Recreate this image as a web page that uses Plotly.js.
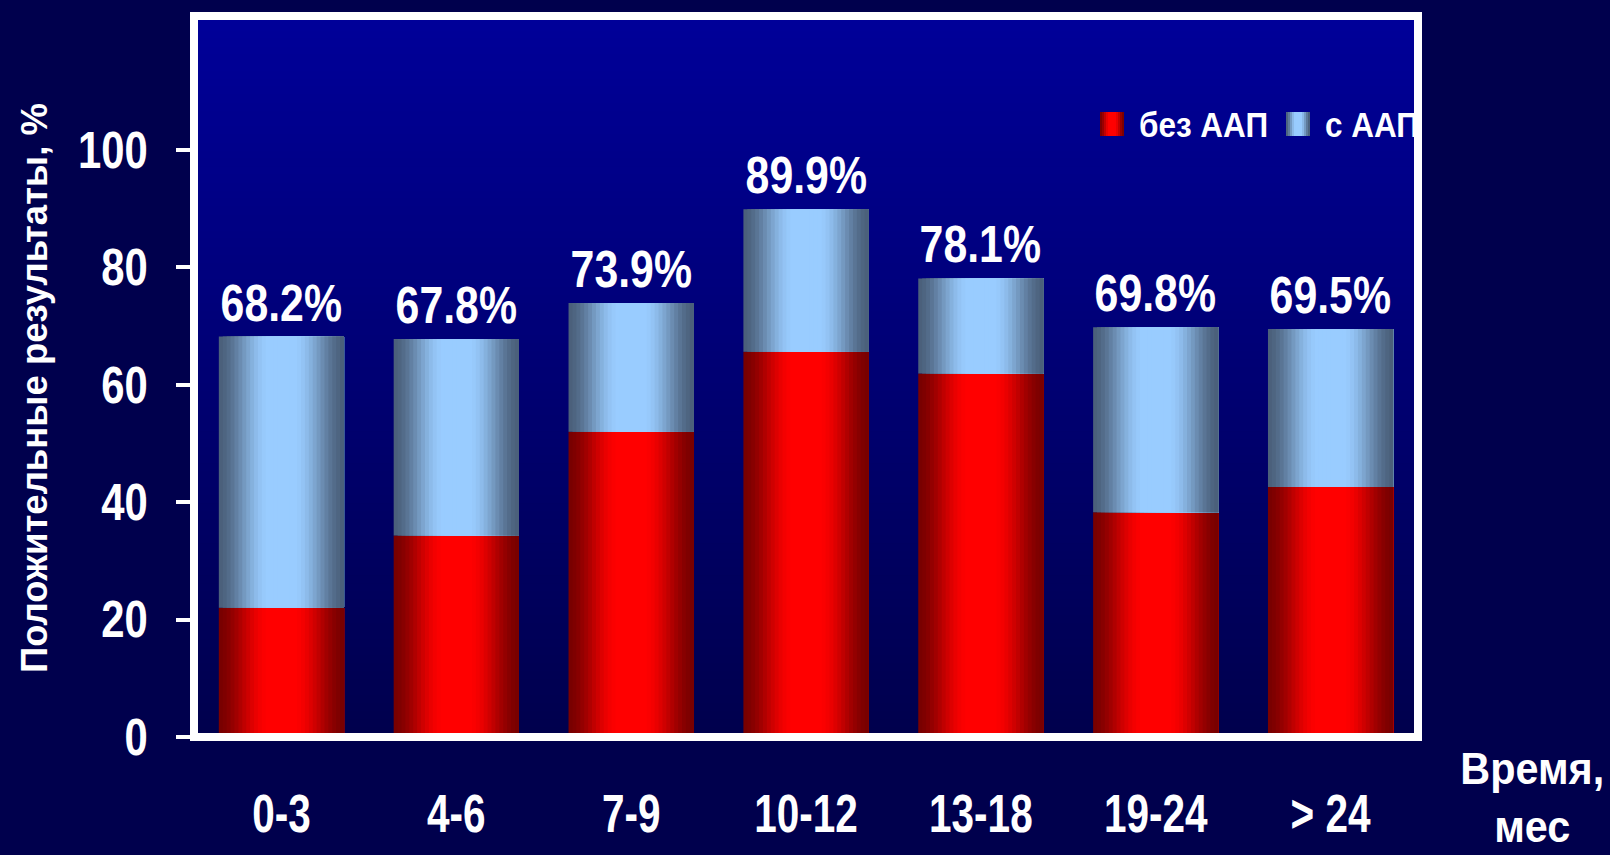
<!DOCTYPE html>
<html>
<head>
<meta charset="utf-8">
<script src="https://cdn.plot.ly/plotly-3.0.1.min.js"></script>
<style>
  html, body { margin: 0; padding: 0; background: #00004d; }
  #chart { width: 1610px; height: 855px; }
</style>
</head>
<body>
<div id="chart"></div>
<script>
// ---- data ----
const categories = ['0-3', '4-6', '7-9', '10-12', '13-18', '19-24', '> 24'];
const withoutAAP = [22.0, 34.3, 52.0, 65.6, 61.9, 38.3, 42.6];   // без ААП
const withAAP    = [46.2, 33.5, 21.9, 24.3, 16.2, 31.5, 26.9];   // с ААП
const totals     = [68.2, 67.8, 73.9, 89.9, 78.1, 69.8, 69.5];
const yTicks     = [0, 20, 40, 60, 80, 100];
const seriesNames = ['без ААП', 'с ААП'];
const yTitle = 'Положительные результаты, %';
const xTitle = 'Время,<br>мес';

// ---- style ----
const FONT = "'Liberation Sans', Arial, sans-serif";
const W = 1610, H = 855;
const M = {l: 194, r: 192, t: 16, b: 118};
const PW = W - M.l - M.r, PH = H - M.t - M.b;
const px2x = p => (p - M.l) / PW;
const px2y = p => (H - M.b - p) / PH;

function hex(c) { return [parseInt(c.substr(1,2),16), parseInt(c.substr(3,2),16), parseInt(c.substr(5,2),16)]; }
function lerp(a, b, f) { const A = hex(a), B = hex(b); return 'rgb(' + A.map((v,i)=>Math.round(v + (B[i]-v)*f)).join(',') + ')'; }
function profile(t) {
  let f = (1 - Math.abs(t - 0.5) * 2) / 0.78;
  f = Math.max(0, Math.min(1, f));
  return f * f * (3 - 2 * f) * 0.85 + f * 0.15;
}
const grad = [
  {edge: '#780000', mid: '#ff0000'},
  {edge: '#4a5f7a', mid: '#99ccff'}
];

const NS = 32;           // slices per bar for horizontal shading
const BW = 0.716;        // bar width in category units
const sw = BW / NS;

const traces = [];
[withoutAAP, withAAP].forEach((vals, s) => {
  for (let i = 0; i < NS; i++) {
    const t = (i + 0.5) / NS;
    const tr = {
      type: 'bar',
      x: categories,
      y: vals,
      offset: -BW / 2 + i * sw,
      width: BW - i * sw,          // each slice runs to the right edge; later slices cover it
      name: seriesNames[s],
      legendgroup: seriesNames[s],
      showlegend: false,
      marker: {color: lerp(grad[s].edge, grad[s].mid, profile(t)), line: {width: 0}},
      hoverinfo: 'skip'
    };
    if (s === 1) tr.base = withoutAAP;
    traces.push(tr);
  }
});

// ---- background gradient strips inside the plot ----
const shapes = [];
const NB = 90;
for (let k = 0; k < NB; k++) {
  shapes.push({
    type: 'rect', xref: 'paper', yref: 'paper', layer: 'below',
    x0: 0, x1: 1, y0: 1 - (k + 1) / NB, y1: 1 - k / NB + 0.002,
    line: {width: 0},
    fillcolor: lerp('#000099', '#00004d', (k + 0.5) / NB)
  });
}
// frame
shapes.push({
  type: 'rect', xref: 'paper', yref: 'paper', layer: 'above',
  x0: 0, x1: 1, y0: 0, y1: 1,
  line: {width: 8, color: '#ffffff'}, fillcolor: 'rgba(0,0,0,0)'
});

// ---- custom legend with shaded swatches ----
const legendItems = [
  {sx: 1100, tx: 1137},
  {sx: 1286, tx: 1323}
];
const annotations = [];
legendItems.forEach((it, s) => {
  const n = 12, size = 24, top = 112;
  for (let i = 0; i < n; i++) {
    shapes.push({
      type: 'rect', xref: 'paper', yref: 'paper', layer: 'above',
      x0: px2x(it.sx + i * size / n), x1: px2x(it.sx + size),
      y0: px2y(top + size), y1: px2y(top),
      line: {width: 0},
      fillcolor: lerp(grad[s].edge, grad[s].mid, profile((i + 0.5) / n))
    });
  }
  annotations.push({
    xref: 'paper', yref: 'paper', x: px2x(it.tx), y: px2y(124),
    xanchor: 'left', yanchor: 'middle', showarrow: false, align: 'left',
    text: seriesNames[s], name: 'legend',
    font: {family: FONT, size: 35, color: '#ffffff', weight: 700}
  });
});

// total labels above bars
categories.forEach((c, i) => {
  annotations.push({
    x: c, y: totals[i], xref: 'x', yref: 'y',
    xanchor: 'center', yanchor: 'bottom', yshift: 3, showarrow: false,
    text: totals[i].toFixed(1) + '%', name: 'total',
    font: {family: FONT, size: 51, color: '#ffffff', weight: 700}
  });
});

// x-axis title at bottom right
annotations.push({
  xref: 'paper', yref: 'paper', x: px2x(1532), y: px2y(741),
  xanchor: 'center', yanchor: 'top', showarrow: false, align: 'center',
  text: xTitle, name: 'xtitle',
  font: {family: FONT, size: 45, color: '#ffffff', weight: 700}
});

// y-axis title (rotated), placed left of the tick labels
annotations.push({
  xref: 'paper', yref: 'paper', x: px2x(34), y: px2y(388),
  xanchor: 'center', yanchor: 'middle', showarrow: false, textangle: -90,
  text: yTitle, name: 'ytitle',
  font: {family: FONT, size: 36.5, color: '#ffffff', weight: 700}
});

const layout = {
  width: W, height: H,
  margin: M,
  paper_bgcolor: '#00004d',
  plot_bgcolor: 'rgba(0,0,0,0)',
  barmode: 'overlay',
  showlegend: false,
  font: {family: FONT, color: '#ffffff'},
  xaxis: {
    type: 'category', range: [-0.5, 6.5],
    showgrid: false, zeroline: false, showline: false, ticks: '',
    tickfont: {family: FONT, size: 54, color: '#ffffff', weight: 700},
    ticklabelstandoff: 40, fixedrange: true
  },
  yaxis: {
    range: [0, 122.8], tickvals: yTicks, ticktext: yTicks.map(String),
    showgrid: false, zeroline: false, showline: false,
    ticks: 'outside', ticklen: 17, tickwidth: 4, tickcolor: '#ffffff',
    tickfont: {family: FONT, size: 51, color: '#ffffff', weight: 700},
    ticklabelstandoff: 18,
    fixedrange: true
  },
  shapes: shapes,
  annotations: annotations
};

// The reference uses a condensed bold face; none is installed, so the text
// is narrowed horizontally around its anchor after drawing.
function squeeze(el, s, mode) {
  const bb = el.getBBox();
  let p = bb.x + bb.width / 2;
  if (mode === 'right') p = bb.x + bb.width;
  if (mode === 'left') p = bb.x;
  const old = el.getAttribute('transform') || '';
  el.setAttribute('transform', old + ' translate(' + p + ',0) scale(' + s + ',1) translate(' + (-p) + ',0)');
}

Plotly.newPlot('chart', traces, layout, {displayModeBar: false, staticPlot: true}).then(gd => {
  gd.querySelectorAll('.xtick text').forEach(el => squeeze(el, 0.75, 'center'));
  gd.querySelectorAll('.ytick text').forEach(el => squeeze(el, 0.82, 'right'));
  const anns = gd.querySelectorAll('.annotation');
  anns.forEach((g, i) => {
    const a = layout.annotations[i];
    const t = g.querySelector('text');
    if (!t || !a) return;
    if (a.name === 'legend') squeeze(t, 0.9, 'left');
    else if (a.name === 'total') squeeze(t, 0.84, 'center');
    else if (a.name === 'xtitle') squeeze(t, 0.92, 'center');
  });
});
</script>
</body>
</html>
